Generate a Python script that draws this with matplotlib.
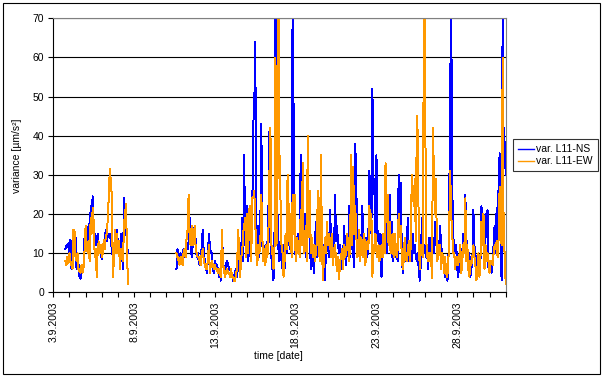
"""
Variance of L11 sensors, Sept 2003 (Excel-style chart)
"""

import datetime as dt
import pandas as pd
import matplotlib
matplotlib.use("Agg")
from matplotlib import pyplot as plt
import matplotlib.dates as mdates
from matplotlib.patches import Rectangle
from matplotlib.ticker import FuncFormatter, MultipleLocator

STEP = "90min"

# first block of records
seg1_start = "2003-09-03 18:00"
ns_seg1 = [11, 12, 11.5, 12.5, 10, 13.5, 6, 9, 15, 11,
           14, 6, 8, 7, 4, 3.5, 5, 6, 7, 14.5,
           16, 11, 13, 17.5, 12, 22, 20, 24.5, 13, 15,
           12, 13, 15, 11, 12, 10, 8.5, 11, 12, 14,
           16, 13, 15, 14, 15, 13, 11, 9, 10, 14,
           13, 16, 12, 11, 9, 15, 10, 6, 24, 18,
           17, 12, 10]
ew_seg1 = [8, 7, 9, 7.5, 10, 8, 7, 6, 16, 15.5,
           9, 8, 10, 5.5, 6, 5, 7, 5, 6.5, 11,
           17, 12.5, 10, 13, 8, 19, 15, 21.5, 18, 9,
           11, 4, 11, 13, 10, 12, 9, 10, 13.5, 11,
           14.5, 15, 19, 25, 31.5, 28, 24.5, 4, 8, 16,
           10, 15, 10, 13, 6, 11, 9, 8, 17, 20,
           22.5, 10, 2]

# second block of records
seg2_start = "2003-09-10 15:00"
ns_seg2 = [6, 11, 10, 9, 10, 9, 10, 11, 9, 11,
           12, 11, 13, 19, 14, 9, 12, 15, 17, 13,
           9, 10, 8, 7, 8, 12, 16, 10, 8, 7,
           5, 8, 15, 12, 10, 10, 6, 5, 8, 7,
           7, 6, 4, 5, 3, 16, 8, 6, 5, 7,
           8, 7, 6, 6, 5, 5, 3, 4, 5, 6,
           4, 7, 10, 6, 9, 19, 8, 35, 12, 20,
           22, 8, 12, 14, 11, 20, 43, 47, 64, 15,
           11, 17, 9, 16, 43, 12, 10, 8, 12, 9,
           12, 20, 41, 13, 9, 6, 3, 12, 75, 15,
           20, 11, 8, 13, 10, 6, 12, 6, 12, 10,
           12, 13, 18, 10, 14, 75, 45, 13, 9, 11,
           15, 10, 12, 35, 14, 20, 12, 20, 9, 12,
           35, 20, 15, 6, 12, 10, 5, 11, 18, 9,
           22, 12, 8, 14, 10, 12, 10, 3, 11, 16,
           12, 9, 21, 14, 11, 15, 9, 25, 13, 17,
           12, 10, 12, 9, 6, 9, 17, 10, 7, 13,
           11, 22, 9, 15, 12, 10, 6.5, 38, 28, 12,
           14, 12, 10, 13, 22, 13, 10, 12, 14, 9,
           14, 31, 22, 15, 52, 25, 29, 13, 35, 16,
           13, 10, 15, 4, 11, 11, 15, 20, 10, 22,
           14, 25, 11, 18, 8, 12, 9, 12, 10, 8,
           30, 20, 28, 12, 5, 9, 12, 8, 10, 19,
           8, 11, 13, 8, 15, 10, 12, 9, 8, 10,
           5, 3, 8, 19, 12, 10, 12, 9, 12, 6,
           14, 10, 14, 9, 12, 10, 18, 12, 12, 10,
           10, 17, 12, 10, 9, 6, 4, 7, 3, 4,
           20, 50, 75, 28, 14, 12, 10, 12, 6, 4,
           8, 6, 8, 10, 15, 12, 25, 14, 10, 8,
           10, 4, 6, 8, 21, 12, 10, 5, 9, 8,
           6, 8, 22, 15, 12, 9, 20, 14, 21, 6,
           8, 6, 5, 7, 12, 17, 10, 21.5, 12, 28,
           35.5, 10, 3, 75, 35, 38.5, 30]
ew_seg2 = [10, 9, 8, 7, 9, 8, 7, 10, 11, 9,
           14, 16, 25, 14, 12, 17, 12, 13, 17, 11,
           10, 9, 9, 8, 7, 10, 11, 8, 7, 6,
           6, 8, 12, 5, 7, 8, 7, 6, 7, 6,
           6, 5, 6, 5, 4, 16, 7, 6, 4, 5,
           6, 5, 5, 4, 6, 4, 4, 3, 3, 5,
           6, 16, 11, 4, 9, 10, 15, 17, 19, 9,
           20, 10, 21, 22, 8, 24, 24, 26, 18, 10,
           7, 12, 10, 12, 25, 14, 8, 11, 7, 12,
           9, 15, 30, 42, 12, 10, 6, 9, 60, 12,
           28, 75, 35, 24, 12, 10, 4, 8, 15, 11,
           30, 22, 12, 20, 9, 25, 15, 25, 8, 14,
           10, 13, 9, 21, 12, 33, 10, 12, 17, 8,
           40, 14, 26, 10, 14, 9, 12, 8, 10, 13,
           26, 11, 8, 35, 13, 3, 9, 14, 10, 18,
           12, 15, 13, 9, 15, 7, 11, 12, 8, 5.5,
           9, 3.3, 8, 9, 11, 6, 12, 9, 10, 15,
           12, 8, 13, 35, 12, 32, 15, 22, 15, 9,
           10, 16, 8, 14, 11, 9, 15, 7, 11, 13,
           11, 22, 16, 20, 4, 12, 10, 15, 12, 9,
           12, 8, 11, 12, 9, 15, 10, 33, 18, 25,
           12, 18, 10, 12, 15, 9, 15, 12, 9, 11,
           20, 14, 17, 10, 6, 8, 14, 9, 8, 10,
           13, 8, 12, 30, 26, 22, 29, 13, 45, 40,
           12, 6, 12, 10, 9, 75, 67, 15, 10, 8,
           10, 8, 10, 3.6, 42, 28, 20, 29, 8, 9,
           12, 12, 6, 10, 9, 5, 9, 5, 4, 6,
           15, 31, 20, 15, 10, 10, 6, 9, 9, 7,
           9, 12, 5, 8, 12, 10, 24, 8, 12, 6,
           4, 8, 7, 9, 12, 9, 7, 3, 6, 10,
           4, 9, 18, 12, 20, 6, 12, 8, 10, 8,
           5, 8, 8, 7, 10, 12, 11, 13, 9, 14,
           27, 15, 12, 60, 12, 10, 2]

labels = ["var. L11-NS", "var. L11-EW"]
colors = ["#0000FF", "#FF9900"]

plt.rcParams["font.family"] = ["Liberation Sans", "DejaVu Sans"]
plt.rcParams["font.size"] = 7.5


def date_label(x, pos):
    d = mdates.num2date(x)
    return f"{d.day}.{d.month}.{d.year}"


def main():
    W, H = 604, 378
    fig = plt.figure(figsize=(W / 100, H / 100), dpi=100)
    # plot area in pixels: x 53..506, y 18..292
    ax = fig.add_axes([53.3 / W, (H - 292.3) / H, 452.4 / W, 274 / H])

    t1 = pd.date_range(seg1_start, periods=len(ns_seg1), freq=STEP)
    t2 = pd.date_range(seg2_start, periods=len(ns_seg2), freq=STEP)

    for (s1, s2), lab, col in zip([(ns_seg1, ns_seg2), (ew_seg1, ew_seg2)], labels, colors):
        ax.plot(t1, s1, color=col, lw=0.72, label=lab, antialiased=False)
        ax.plot(t2, s2, color=col, lw=0.72, antialiased=False)

    ax.set_xlim(dt.datetime(2003, 9, 3), dt.datetime(2003, 10, 1))
    ax.set_ylim(0, 70)
    ax.yaxis.set_major_locator(MultipleLocator(10))
    ax.xaxis.set_major_locator(mdates.DayLocator(bymonthday=[3, 8, 13, 18, 23, 28]))
    ax.xaxis.set_minor_locator(mdates.DayLocator())
    ax.xaxis.set_major_formatter(FuncFormatter(date_label))
    ax.tick_params(axis="x", which="both", direction="out", length=3.5, width=0.8,
                   labelrotation=90, pad=3)
    ax.tick_params(axis="y", direction="out", length=3.5, width=0.8, pad=3)

    ax.grid(axis="y", color="black", lw=0.8)
    ax.set_axisbelow(True)
    for side in ("top", "right"):
        ax.spines[side].set_color("#808080")
    for side in ("left", "bottom"):
        ax.spines[side].set_color("black")
    for sp in ax.spines.values():
        sp.set_linewidth(0.8)

    ax.set_ylabel("variance [µm/s²]")
    ax.yaxis.set_label_coords(-0.069, 0.5)
    ax.set_xlabel("time [date]")
    ax.xaxis.set_label_coords(0.498, -0.215)

    leg = fig.legend(loc="upper left", bbox_to_anchor=(513 / W, 1 - 139 / H),
                     borderaxespad=0, frameon=True, fancybox=False,
                     edgecolor="black", fontsize=7.5, handlelength=1.55,
                     handletextpad=0.2, borderpad=0.5, labelspacing=0.2)
    leg.get_frame().set_linewidth(0.8)
    for line in leg.get_lines():
        line.set_linewidth(1.0)

    # chart area border
    fig.patches.append(Rectangle((3.3 / W, 1 - 374.3 / H), 596.7 / W, 371 / H,
                                 transform=fig.transFigure, fill=False,
                                 edgecolor="black", lw=0.8))

    fig.savefig("out.png", dpi=100)


if __name__ == "__main__":
    main()
